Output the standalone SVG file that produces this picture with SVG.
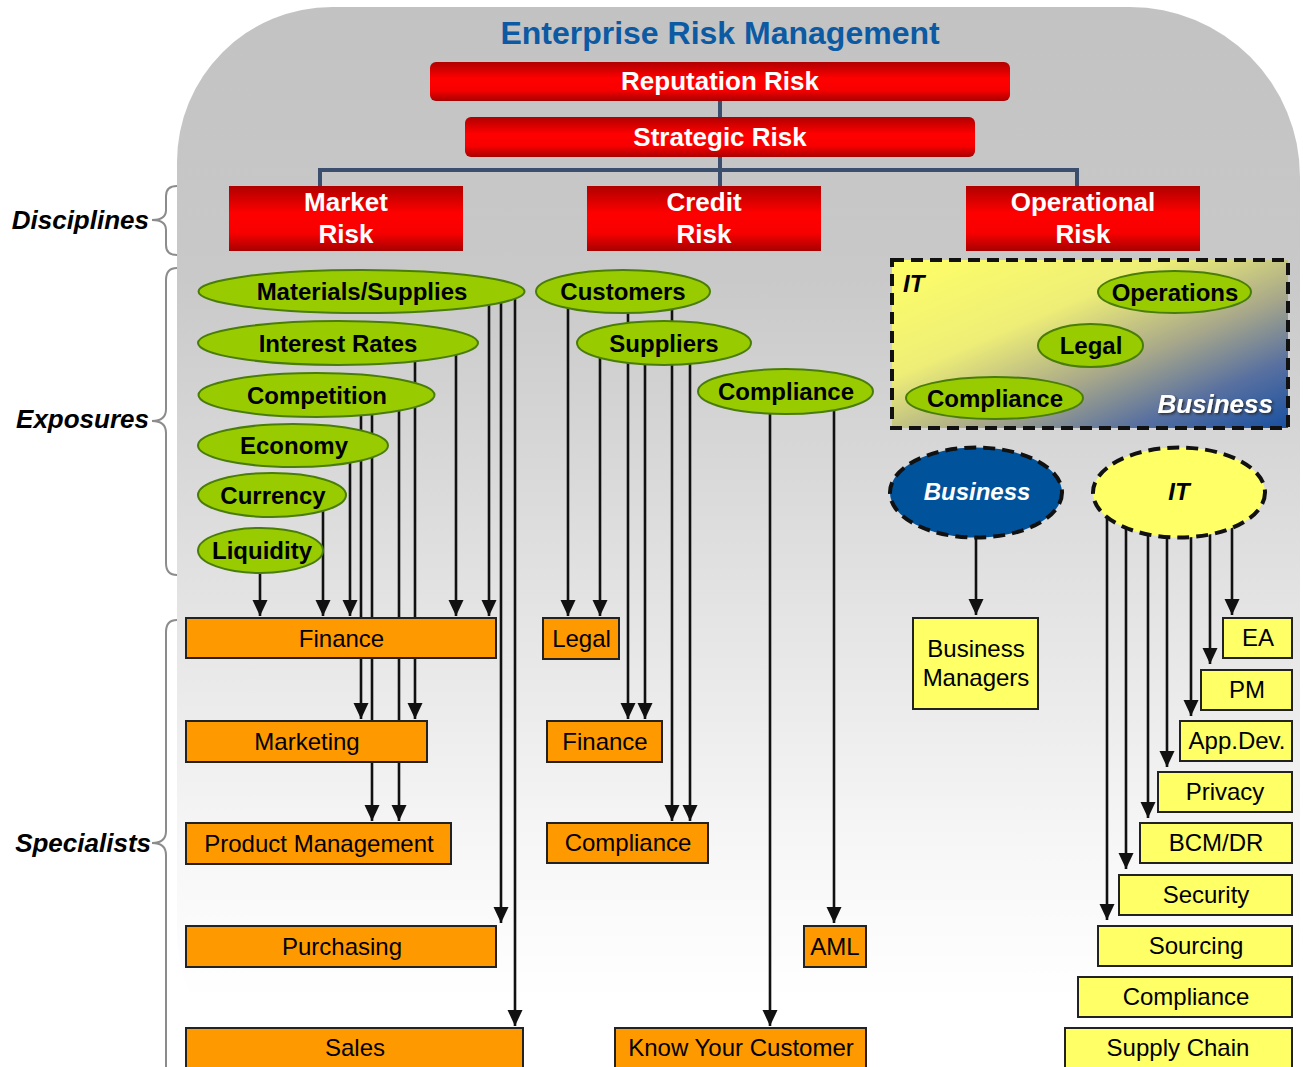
<svg xmlns="http://www.w3.org/2000/svg" width="1303" height="1067" viewBox="0 0 1303 1067">
<defs>
<style>
text{font-family:"Liberation Sans",Arial,sans-serif;}
.ttl{font-size:32px;font-weight:bold;fill:#0b5aa3;text-anchor:middle;}
.rb{font-size:26px;font-weight:bold;fill:#fff;text-anchor:middle;}
.eb{font-size:24px;font-weight:bold;fill:#000;text-anchor:middle;}
.bx{font-size:24px;fill:#000;text-anchor:middle;}
.side{font-size:26px;font-weight:bold;font-style:italic;fill:#000;text-anchor:end;}
.exp{fill:#99cc00;stroke:#4a7d08;stroke-width:2;}
.org{fill:#ff9900;stroke:#222;stroke-width:2;}
.yel{fill:#ffff66;stroke:#222;stroke-width:2;}
.red{fill:url(#gRed);}
.arr{stroke:#111;stroke-width:2.6;fill:none;marker-end:url(#ah);}
.tree{stroke:#3b4e6e;stroke-width:4;fill:none;}
.brace{stroke:#8c8c8c;stroke-width:2;fill:none;}
.dash{stroke:#111;stroke-width:4;stroke-dasharray:12 7;}
</style>
<linearGradient id="gBg" gradientUnits="userSpaceOnUse" x1="0" y1="0" x2="0" y2="1067">
<stop offset="0" stop-color="#c2c2c2"/>
<stop offset="0.26" stop-color="#c9c9c9"/>
<stop offset="0.56" stop-color="#e3e3e3"/>
<stop offset="0.8" stop-color="#f7f7f7"/>
<stop offset="0.94" stop-color="#ffffff"/>
</linearGradient>
<linearGradient id="gRed" x1="0" y1="0" x2="0" y2="1">
<stop offset="0" stop-color="#b00000"/>
<stop offset="0.42" stop-color="#ff0000"/>
<stop offset="0.72" stop-color="#f80000"/>
<stop offset="1" stop-color="#a80000"/>
</linearGradient>
<linearGradient id="gBox" x1="0" y1="0" x2="1" y2="1">
<stop offset="0" stop-color="#ffff66"/>
<stop offset="0.35" stop-color="#eeee77"/>
<stop offset="0.6" stop-color="#a8a88a"/>
<stop offset="0.8" stop-color="#5870a0"/>
<stop offset="1" stop-color="#1850a0"/>
</linearGradient>
<filter id="sh" x="-10%" y="-30%" width="130%" height="160%">
<feDropShadow dx="1.5" dy="1.5" stdDeviation="0.8" flood-color="#222" flood-opacity="0.9"/>
</filter>
<marker id="ah" viewBox="0 0 16 16" refX="16" refY="8" markerWidth="16" markerHeight="16" markerUnits="userSpaceOnUse" orient="auto">
<path d="M0,0.5 L16,8 L0,15.5 z" fill="#111"/>
</marker>
</defs>

<rect x="0" y="0" width="1303" height="1067" fill="#ffffff"/>
<path id="background" d="M332,7 H1130 A170,170 0 0 1 1300,177 V1067 H250 Q177,1010 177,930 V162 A155,155 0 0 1 332,7 Z" fill="url(#gBg)"/>

<g id="title"><text class="ttl" x="720" y="44">Enterprise Risk Management</text></g>

<g id="side-labels">
<path class="brace" d="M177,186 Q166,186 166,196 V210 Q166,220 152,220 Q166,220 166,230 V245 Q166,255 177,255"/>
<text class="side" x="149" y="229">Disciplines</text>
<path class="brace" d="M177,268 Q166,268 166,280 V409 Q166,421 152,421 Q166,421 166,433 V563 Q166,575 177,575"/>
<text class="side" x="149" y="428">Exposures</text>
<path class="brace" d="M177,620 Q166,620 166,632 V831 Q166,843 152,843 Q166,843 166,855 V1080"/>
<text class="side" x="151" y="852">Specialists</text>
</g>

<g id="connectors">
<path class="tree" d="M720,101 V117 M720,157 V186 M320,186 V170 H1077 V186"/>
<line class="arr" x1="260" y1="560" x2="260" y2="616"/>
<line class="arr" x1="323" y1="500" x2="323" y2="616"/>
<line class="arr" x1="350" y1="450" x2="350" y2="616"/>
<line class="arr" x1="456" y1="345" x2="456" y2="616"/>
<line class="arr" x1="489" y1="295" x2="489" y2="616"/>
<line class="arr" x1="361" y1="400" x2="361" y2="719"/>
<line class="arr" x1="415" y1="345" x2="415" y2="719"/>
<line class="arr" x1="372" y1="400" x2="372" y2="821"/>
<line class="arr" x1="399" y1="400" x2="399" y2="821"/>
<line class="arr" x1="501" y1="292" x2="501" y2="923"/>
<line class="arr" x1="515" y1="292" x2="515" y2="1026"/>
<line class="arr" x1="568" y1="295" x2="568" y2="616"/>
<line class="arr" x1="600" y1="345" x2="600" y2="616"/>
<line class="arr" x1="628" y1="295" x2="628" y2="719"/>
<line class="arr" x1="645" y1="345" x2="645" y2="719"/>
<line class="arr" x1="672" y1="295" x2="672" y2="821"/>
<line class="arr" x1="690" y1="345" x2="690" y2="821"/>
<line class="arr" x1="770" y1="395" x2="770" y2="1026"/>
<line class="arr" x1="834" y1="395" x2="834" y2="923"/>
<line class="arr" x1="976" y1="495" x2="976" y2="615"/>
<line class="arr" x1="1232" y1="495" x2="1232" y2="615"/>
<line class="arr" x1="1210" y1="495" x2="1210" y2="664"/>
<line class="arr" x1="1191" y1="495" x2="1191" y2="716"/>
<line class="arr" x1="1167" y1="495" x2="1167" y2="767"/>
<line class="arr" x1="1148" y1="495" x2="1148" y2="818"/>
<line class="arr" x1="1126" y1="495" x2="1126" y2="869"/>
<line class="arr" x1="1107" y1="495" x2="1107" y2="920"/>
</g>

<g id="reputation-risk"><rect class="red" x="430" y="62" width="580" height="39" rx="6"/><text class="rb" x="720" y="90">Reputation Risk</text></g>
<g id="strategic-risk"><rect class="red" x="465" y="117" width="510" height="40" rx="6"/><text class="rb" x="720" y="146">Strategic Risk</text></g>
<g id="market-risk"><rect class="red" x="229" y="186" width="234" height="65"/><text class="rb" x="346" y="211">Market</text><text class="rb" x="346" y="243">Risk</text></g>
<g id="credit-risk"><rect class="red" x="587" y="186" width="234" height="65"/><text class="rb" x="704" y="211">Credit</text><text class="rb" x="704" y="243">Risk</text></g>
<g id="operational-risk"><rect class="red" x="966" y="186" width="234" height="65"/><text class="rb" x="1083" y="211">Operational</text><text class="rb" x="1083" y="243">Risk</text></g>

<g id="exp-materials"><ellipse class="exp" cx="361.5" cy="291.5" rx="163" ry="21.5"/><text class="eb" x="362" y="300">Materials/Supplies</text></g>
<g id="exp-interest"><ellipse class="exp" cx="338" cy="343" rx="140" ry="22"/><text class="eb" x="338" y="351.5">Interest Rates</text></g>
<g id="exp-competition"><ellipse class="exp" cx="316.5" cy="395" rx="118" ry="22"/><text class="eb" x="317" y="403.5">Competition</text></g>
<g id="exp-economy"><ellipse class="exp" cx="293" cy="445.5" rx="95" ry="21.5"/><text class="eb" x="294" y="454">Economy</text></g>
<g id="exp-currency"><ellipse class="exp" cx="272" cy="495" rx="74" ry="22"/><text class="eb" x="273" y="503.5">Currency</text></g>
<g id="exp-liquidity"><ellipse class="exp" cx="260.5" cy="550.5" rx="62.5" ry="22.5"/><text class="eb" x="262" y="559">Liquidity</text></g>

<g id="exp-customers"><ellipse class="exp" cx="623" cy="291.5" rx="87" ry="21.5"/><text class="eb" x="623" y="300">Customers</text></g>
<g id="exp-suppliers"><ellipse class="exp" cx="664" cy="343" rx="87" ry="22"/><text class="eb" x="664" y="351.5">Suppliers</text></g>
<g id="exp-compliance"><ellipse class="exp" cx="785.5" cy="391.5" rx="87.5" ry="22.5"/><text class="eb" x="786" y="400">Compliance</text></g>

<g id="it-business-zone">
<rect x="892" y="260" width="396" height="168" fill="url(#gBox)" class="dash"/>
<text x="903" y="292" style="font-size:24px;font-weight:bold;font-style:italic;fill:#000">IT</text>
<text x="1273" y="413" filter="url(#sh)" style="font-size:26px;font-weight:bold;font-style:italic;fill:#fff;text-anchor:end">Business</text>
</g>
<g id="exp-operations"><ellipse class="exp" cx="1174.5" cy="292" rx="76.5" ry="21"/><text class="eb" x="1175" y="300.5">Operations</text></g>
<g id="exp-legal"><ellipse class="exp" cx="1090.5" cy="345.5" rx="52.5" ry="21.5"/><text class="eb" x="1091" y="354">Legal</text></g>
<g id="exp-compliance-op"><ellipse class="exp" cx="994.5" cy="398" rx="88.5" ry="21"/><text class="eb" x="995" y="406.5">Compliance</text></g>

<g id="business"><ellipse cx="976" cy="492.5" rx="86" ry="45" fill="#00529b" class="dash"/><text x="977" y="500" style="font-size:24px;font-weight:bold;font-style:italic;fill:#fff;text-anchor:middle">Business</text></g>
<g id="it"><ellipse cx="1179" cy="492.5" rx="86" ry="45" fill="#ffff66" class="dash"/><text x="1179" y="500" style="font-size:24px;font-weight:bold;font-style:italic;fill:#000;text-anchor:middle">IT</text></g>

<g id="sp-finance"><rect class="org" x="186" y="618" width="310" height="40"/><text class="bx" x="341.5" y="646.5">Finance</text></g>
<g id="sp-marketing"><rect class="org" x="186" y="721" width="241" height="41"/><text class="bx" x="307" y="749.5">Marketing</text></g>
<g id="sp-product-management"><rect class="org" x="186" y="823" width="265" height="41"/><text class="bx" x="319" y="851.5">Product Management</text></g>
<g id="sp-purchasing"><rect class="org" x="186" y="926" width="310" height="41"/><text class="bx" x="342" y="954.5">Purchasing</text></g>
<g id="sp-sales"><rect class="org" x="186" y="1028" width="337" height="42"/><text class="bx" x="355" y="1056">Sales</text></g>

<g id="sp-legal"><rect class="org" x="543" y="618" width="76" height="41"/><text class="bx" x="581.5" y="646.5">Legal</text></g>
<g id="sp-finance-credit"><rect class="org" x="547" y="721" width="115" height="41"/><text class="bx" x="605" y="749.5">Finance</text></g>
<g id="sp-compliance-credit"><rect class="org" x="547" y="823" width="161" height="40"/><text class="bx" x="628" y="851">Compliance</text></g>
<g id="sp-aml"><rect class="org" x="804" y="926" width="62" height="41"/><text class="bx" x="835" y="954.5">AML</text></g>
<g id="sp-kyc"><rect class="org" x="615" y="1028" width="251" height="42"/><text class="bx" x="741" y="1056">Know Your Customer</text></g>

<g id="sp-business-managers"><rect class="yel" x="913" y="618" width="125" height="91"/><text class="bx" x="976" y="657">Business</text><text class="bx" x="976" y="686">Managers</text></g>

<g id="sp-ea"><rect class="yel" x="1223" y="618" width="69" height="40"/><text class="bx" x="1258" y="646">EA</text></g>
<g id="sp-pm"><rect class="yel" x="1201" y="670" width="91" height="40"/><text class="bx" x="1247" y="698">PM</text></g>
<g id="sp-appdev"><rect class="yel" x="1180" y="721" width="112" height="40"/><text class="bx" x="1237" y="749">App.Dev.</text></g>
<g id="sp-privacy"><rect class="yel" x="1158" y="772" width="134" height="40"/><text class="bx" x="1225" y="800">Privacy</text></g>
<g id="sp-bcmdr"><rect class="yel" x="1140" y="823" width="152" height="40"/><text class="bx" x="1216" y="851">BCM/DR</text></g>
<g id="sp-security"><rect class="yel" x="1119" y="875" width="173" height="40"/><text class="bx" x="1206" y="903">Security</text></g>
<g id="sp-sourcing"><rect class="yel" x="1098" y="926" width="194" height="40"/><text class="bx" x="1196" y="954">Sourcing</text></g>
<g id="sp-compliance-op"><rect class="yel" x="1078" y="977" width="214" height="40"/><text class="bx" x="1186" y="1005">Compliance</text></g>
<g id="sp-supply-chain"><rect class="yel" x="1065" y="1028" width="227" height="42"/><text class="bx" x="1178" y="1056">Supply Chain</text></g>
</svg>
